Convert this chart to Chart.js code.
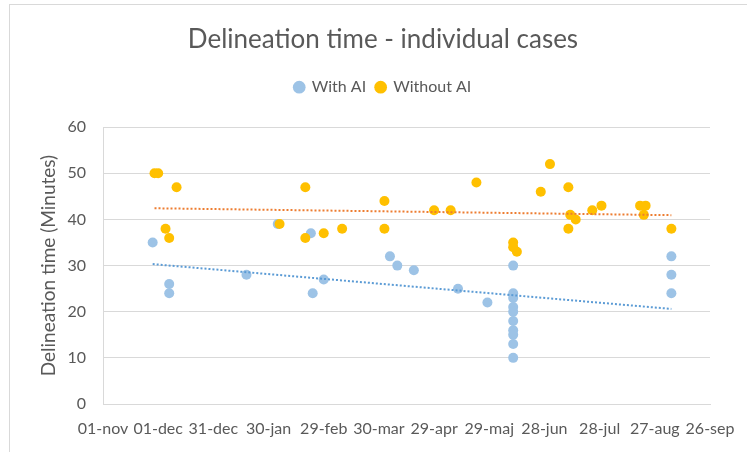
<!DOCTYPE html>
<html><head><meta charset="utf-8">
<script src="https://cdn.jsdelivr.net/npm/chart.js@4.4.0/dist/chart.umd.min.js"></script>
<style>
html,body{margin:0;padding:0;background:#fff;}
#wrap{position:relative;width:747px;height:452px;overflow:hidden;background:#fff;}
#frame{position:absolute;left:9px;top:4px;width:800px;height:500px;border:1px solid #d9d9d9;}
canvas{position:absolute;left:0;top:0;}
</style></head><body>
<div id="wrap"><div id="frame"></div><canvas id="c" width="766" height="452"></canvas></div>
<script>
// x values are days counted from 01-nov (day 0)
const tickLabels = ['01-nov','01-dec','31-dec','30-jan','29-feb','30-mar','29-apr','29-maj','28-jun','28-jul','27-aug','26-sep'];
const withAIDay = [27, 36, 36, 78, 95, 113, 114, 120, 156, 160, 169, 193, 209,
  223, 223, 223, 223, 223, 223, 223, 223, 223, 223, 309, 309, 309];
const withAIMin = [35, 26, 24, 28, 39, 37, 24, 27, 32, 30, 29, 25, 22,
  30, 24, 23, 21, 20, 18, 16, 15, 13, 10, 32, 28, 24];
const withoutAIDay = [28, 30, 40, 34, 36, 96, 110, 110, 120, 130, 153, 153, 180, 189, 203,
  223, 223, 225, 238, 243, 253, 254, 257, 253, 266, 271, 292, 295, 294, 309];
const withoutAIMin = [50, 50, 47, 38, 36, 39, 47, 36, 37, 38, 44, 38, 42, 42, 48,
  35, 34, 33, 46, 52, 47, 41, 40, 38, 42, 43, 43, 43, 41, 38];

const TXT = '#595959', GRID = '#d9d9d9';
const FONT = 'Lato, "Open Sans", sans-serif';

function pts(xs, ys) { return xs.map((x, i) => ({x: x, y: ys[i]})); }
function trend(xs, ys) {
  const n = xs.length;
  const mx = xs.reduce((a, b) => a + b, 0) / n, my = ys.reduce((a, b) => a + b, 0) / n;
  let sxy = 0, sxx = 0;
  for (let i = 0; i < n; i++) { sxy += (xs[i] - mx) * (ys[i] - my); sxx += (xs[i] - mx) ** 2; }
  const b = sxy / sxx, a = my - b * mx;
  const x0 = Math.min(...xs), x1 = Math.max(...xs);
  return [{x: x0, y: a + b * x0}, {x: x1, y: a + b * x1}];
}

const CANVAS_W = 766, PLOT_L = 103, PLOT_R = 710;
const legendGap = {
  id: 'legendGap',
  beforeInit(chart) {
    const lg = chart.legend;
    if (!lg) return;
    const fit = lg.fit;
    lg.fit = function () { fit.call(this); this.height += 22; };
  }
};

new Chart(document.getElementById('c'), {
  type: 'scatter',
  data: {
    datasets: [
      {label: 'trendWithout', data: trend(withoutAIDay, withoutAIMin), showLine: true,
       borderColor: '#ED7D31', borderWidth: 2, borderDash: [2, 2], pointRadius: 0, fill: false},
      {label: 'trendWith', data: trend(withAIDay, withAIMin), showLine: true,
       borderColor: '#5B9BD5', borderWidth: 2, borderDash: [2, 2], pointRadius: 0, fill: false},
      {label: 'Without AI', data: pts(withoutAIDay, withoutAIMin), backgroundColor: '#FFC000',
       borderWidth: 0, pointRadius: 5, pointHoverRadius: 5},
      {label: 'With AI', data: pts(withAIDay, withAIMin), backgroundColor: '#9DC3E6',
       borderWidth: 0, pointRadius: 5, pointHoverRadius: 5}
    ]
  },
  options: {
    responsive: false, animation: false, devicePixelRatio: 1,
    layout: {padding: {left: 0, right: 0, top: 0, bottom: 0}},
    plugins: {
      tooltip: {enabled: false},
      title: {display: true, text: 'Delineation time - individual cases', color: TXT,
        font: {family: FONT, size: 26, weight: 'normal'}, padding: {top: 24, bottom: 14}},
      legend: {position: 'top', align: 'center',
        labels: {usePointStyle: true, pointStyle: 'circle', boxWidth: 9, boxHeight: 9,
          color: TXT, font: {family: FONT, size: 16}, padding: 10,
          filter: (it) => !it.text.startsWith('trend'),
          sort: (a, b) => b.datasetIndex - a.datasetIndex}}
    },
    scales: {
      x: {type: 'linear', min: 0, max: 330,
        ticks: {stepSize: 30, autoSkip: false, maxRotation: 0, color: TXT, padding: 15,
          font: {family: FONT, size: 16}, callback: (v, i) => tickLabels[i]},
        grid: {display: false, drawTicks: false},
        border: {display: true, color: GRID, width: 1},
        afterFit: (s) => { s.height = 48; }
      },
      y: {min: 0, max: 60, position: 'left',
        ticks: {stepSize: 10, color: TXT, padding: 17, font: {family: FONT, size: 16}},
        grid: {color: GRID, drawTicks: false},
        border: {display: true, color: GRID, width: 1},
        title: {display: true, text: 'Delineation time (Minutes)', color: TXT,
          font: {family: FONT, size: 19}, padding: {top: 37, bottom: 0}},
        afterFit: (s) => { s.width = PLOT_L; }
      },
      yR: {type: 'linear', position: 'right', display: true,
        ticks: {display: false}, grid: {display: false, drawTicks: false},
        border: {display: false},
        afterFit: (s) => { s.width = CANVAS_W - PLOT_R; }
      }
    }
  },
  plugins: [legendGap]
});
</script>
</body></html>
